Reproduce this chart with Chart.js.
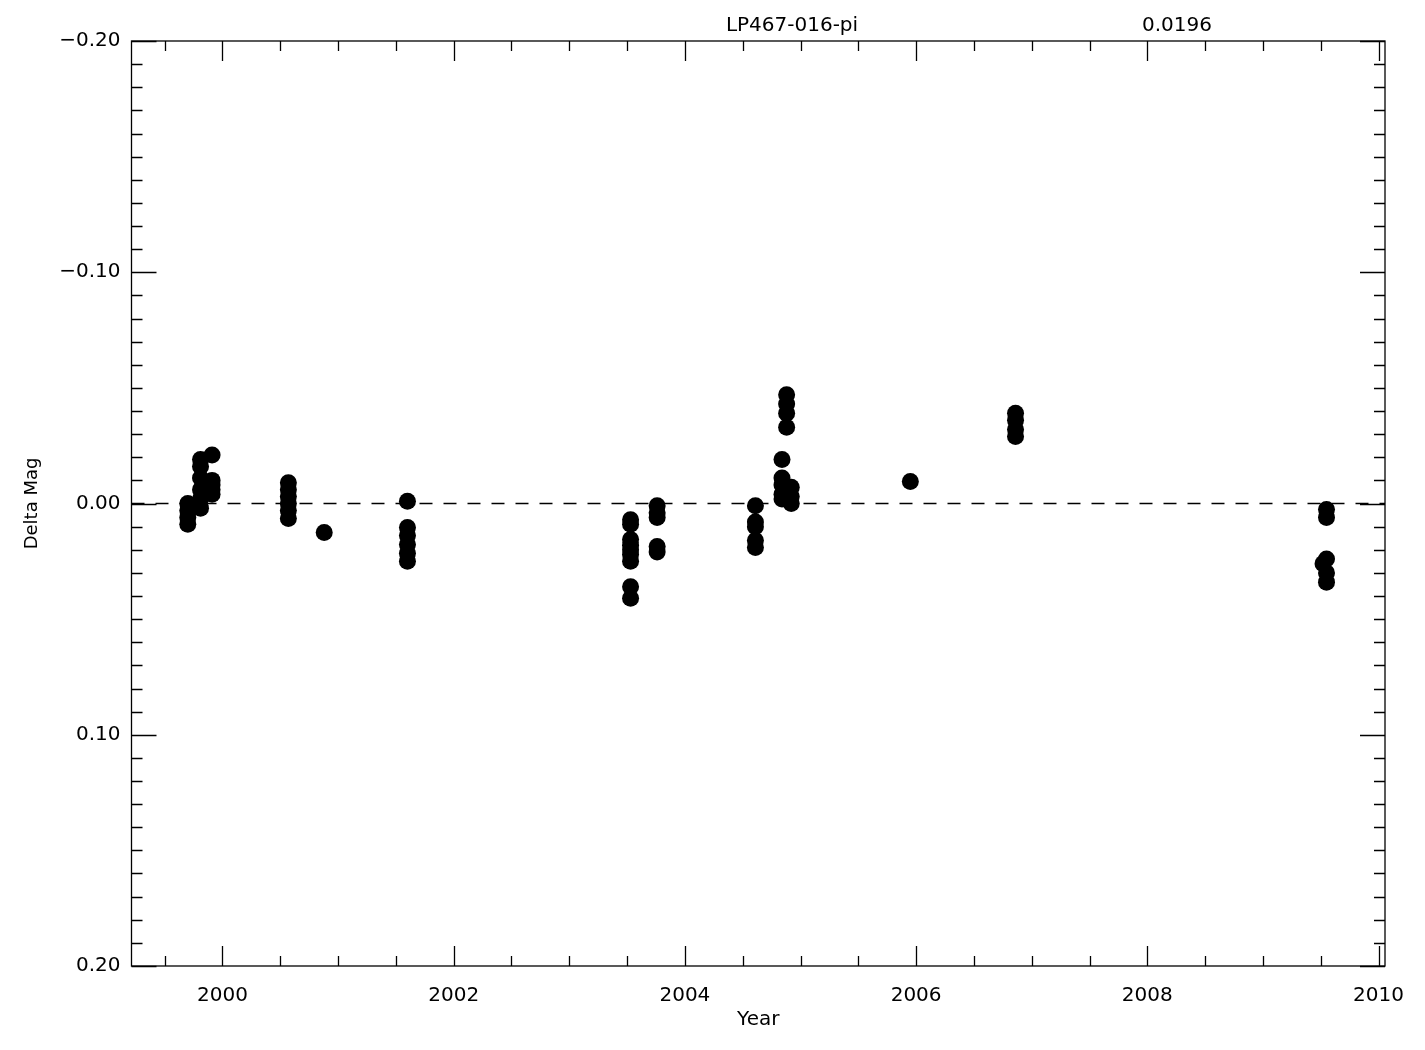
<!DOCTYPE html>
<html>
<head>
<meta charset="utf-8">
<script src="https://cdn.jsdelivr.net/npm/chart.js@4/dist/chart.umd.min.js"></script>
<style>
  html, body { margin: 0; padding: 0; background: #fff; }
  #wrap { width: 1425px; height: 1050px; }
</style>
</head>
<body>
<div id="wrap"><canvas id="chart"></canvas></div>
<script>
const years = [
    1999.70, 1999.70, 1999.70, 1999.70,
    1999.81, 1999.81, 1999.81, 1999.81, 1999.81, 1999.81,
    1999.91, 1999.91, 1999.91, 1999.91, 1999.91,
    2000.57, 2000.57, 2000.57, 2000.57, 2000.57, 2000.57,
    2000.88,
    2001.60, 2001.60, 2001.60, 2001.60, 2001.60, 2001.60,
    2003.53, 2003.53, 2003.53, 2003.53, 2003.53, 2003.53, 2003.53, 2003.53, 2003.53,
    2003.76, 2003.76, 2003.76, 2003.76, 2003.76,
    2004.61, 2004.61, 2004.61, 2004.61, 2004.61,
    2004.84, 2004.84, 2004.84, 2004.84, 2004.84,
    2004.88, 2004.88, 2004.88, 2004.88,
    2004.92, 2004.92, 2004.92,
    2005.95,
    2006.86, 2006.86, 2006.86, 2006.86,
    2009.55, 2009.55, 2009.55, 2009.55, 2009.55, 2009.52
];
const deltaMag = [
    0.000, 0.003, 0.006, 0.009,
    -0.019, -0.016, -0.011, -0.006, -0.002, 0.002,
    -0.021, -0.010, -0.008, -0.006, -0.004,
    -0.009, -0.006, -0.003, 0.000, 0.003, 0.0065,
    0.0125,
    -0.001, 0.0104, 0.0138, 0.0177, 0.0215, 0.025,
    0.007, 0.009, 0.0156, 0.018, 0.020, 0.022, 0.025, 0.036, 0.041,
    0.001, 0.004, 0.006, 0.0186, 0.021,
    0.001, 0.008, 0.010, 0.016, 0.019,
    -0.019, -0.011, -0.008, -0.004, -0.002,
    -0.047, -0.043, -0.039, -0.033,
    -0.007, -0.003, 0.000,
    -0.0095,
    -0.039, -0.036, -0.032, -0.029,
    0.0026, 0.006, 0.024, 0.030, 0.034, 0.026
];
const starName = 'LP467-016-pi';
const rmsText = '0.0196';

const xMin = 1999.213, xMax = 2010.056;
const yMin = -0.20, yMax = 0.20;
const xMajor = [2000, 2002, 2004, 2006, 2008, 2010];
const yMajor = [-0.20, -0.10, 0.00, 0.10, 0.20];

const FONT = '"DejaVu Sans", sans-serif';

const points = years.map((x, i) => ({ x: x, y: deltaMag[i] }));

// IDL style frame: box on all four sides, ticks pointing inward
const framePlugin = {
    id: 'frame',
    afterDatasetsDraw(chart) {
        const ctx = chart.ctx;
        const a = chart.chartArea;
        const xs = chart.scales.x, ys = chart.scales.y;
        ctx.save();
        ctx.strokeStyle = '#000';
        ctx.lineWidth = 1.3;
        ctx.strokeRect(a.left, a.top, a.right - a.left, a.bottom - a.top);
        ctx.beginPath();
        // x ticks every half year, major every 2 years
        for (let v = 1999.5; v <= xMax; v += 0.5) {
            const px = Math.round(xs.getPixelForValue(v)) + 0.5;
            const len = (Math.abs(v / 2 - Math.round(v / 2)) < 1e-6) ? 20 : 10;
            ctx.moveTo(px, a.bottom); ctx.lineTo(px, a.bottom - len);
            ctx.moveTo(px, a.top); ctx.lineTo(px, a.top + len);
        }
        // y ticks every 0.01, major every 0.1
        for (let k = -20; k <= 20; k++) {
            const v = k / 100;
            const py = Math.round(ys.getPixelForValue(v)) + 0.5;
            const len = (k % 10 === 0) ? 25 : 11;
            ctx.moveTo(a.left, py); ctx.lineTo(a.left + len, py);
            ctx.moveTo(a.right, py); ctx.lineTo(a.right - len, py);
        }
        ctx.stroke();

        ctx.fillStyle = '#000';
        ctx.font = '20px ' + FONT;
        ctx.textAlign = 'center';
        ctx.textBaseline = 'alphabetic';
        ctx.fillText(starName, 792, 31);
        ctx.fillText(rmsText, 1177, 31);
        ctx.restore();
    }
};

new Chart(document.getElementById('chart'), {
    type: 'scatter',
    data: {
        datasets: [{
            label: 'zero',
            type: 'line',
            data: [{ x: xMin, y: 0 }, { x: xMax, y: 0 }],
            borderColor: '#000',
            borderWidth: 1.3,
            borderDash: [13, 11],
            pointRadius: 0,
            fill: false
        }, {
            label: 'Delta Mag',
            data: points,
            backgroundColor: '#000',
            borderWidth: 0,
            pointRadius: 8.5,
            pointHoverRadius: 8.5
        }]
    },
    options: {
        responsive: true,
        maintainAspectRatio: false,
        animation: false,
        layout: { padding: { left: 0, right: 40, top: 41, bottom: 0 } },
        plugins: {
            legend: { display: false },
            tooltip: { enabled: false }
        },
        scales: {
            x: {
                type: 'linear',
                min: xMin,
                max: xMax,
                afterBuildTicks(scale) {
                    scale.ticks = xMajor.map(v => ({ value: v }));
                },
                afterFit(scale) { scale.height = 84; },
                grid: { display: false },
                border: { display: false },
                ticks: {
                    color: '#000',
                    font: { family: FONT, size: 20 },
                    padding: 10,
                    maxRotation: 0,
                    callback: v => String(Math.round(v))
                },
                title: {
                    display: true,
                    text: 'Year',
                    color: '#000',
                    font: { family: FONT, size: 20 },
                    padding: { top: 0, bottom: 18 }
                }
            },
            y: {
                type: 'linear',
                reverse: true,
                min: yMin,
                max: yMax,
                afterBuildTicks(scale) {
                    scale.ticks = yMajor.map(v => ({ value: v }));
                },
                afterFit(scale) { scale.width = 131.5; },
                grid: { display: false },
                border: { display: false },
                ticks: {
                    color: '#000',
                    font: { family: FONT, size: 20 },
                    padding: 3,
                    callback: v => (v < -1e-9 ? '\u2212' : '') + Math.abs(v).toFixed(2)
                },
                title: {
                    display: true,
                    text: 'Delta Mag',
                    color: '#000',
                    font: { family: FONT, size: 18 },
                    padding: { top: 22, bottom: 0 }
                }
            }
        }
    },
    plugins: [framePlugin]
});
</script>
</body>
</html>
